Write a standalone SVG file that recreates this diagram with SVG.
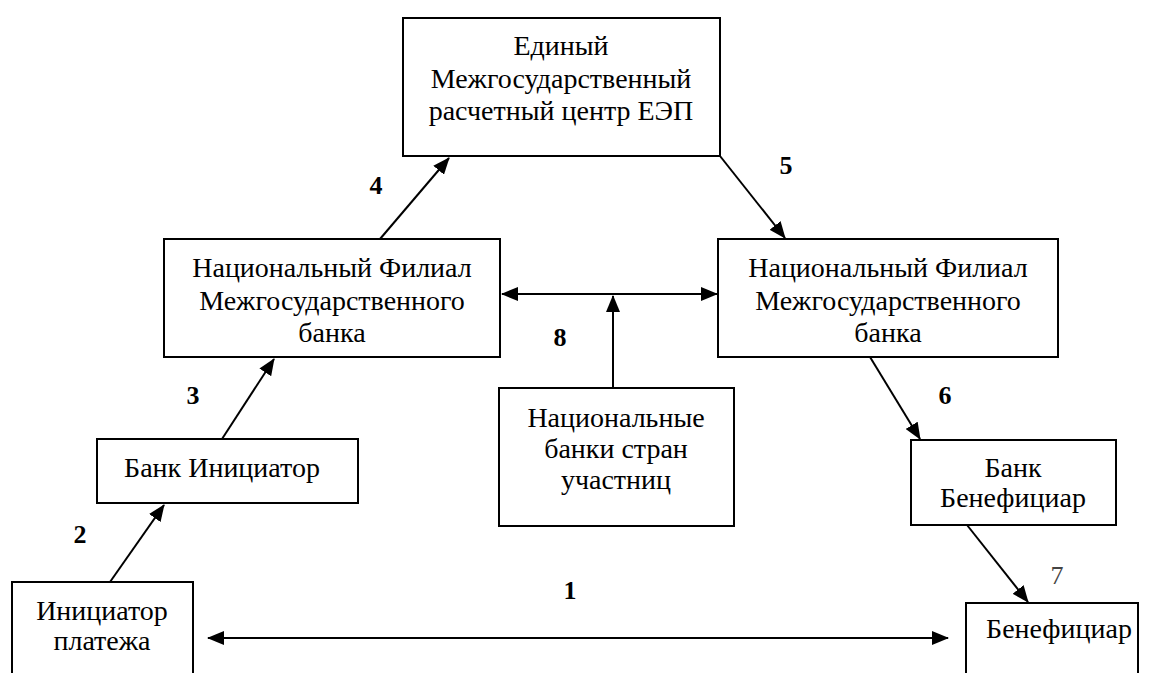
<svg xmlns="http://www.w3.org/2000/svg" width="1150" height="673" viewBox="0 0 1150 673">
<style>
.box{fill:#fff;stroke:#000;stroke-width:2}
.t{font-family:"Liberation Serif",serif;font-size:28px;fill:#000;text-anchor:middle}
.n{font-family:"Liberation Serif",serif;font-size:26px;font-weight:bold;fill:#000;text-anchor:middle}
.c{stroke:#000;stroke-width:2;fill:none}
</style>
<defs>
<marker id="ah" markerUnits="userSpaceOnUse" markerWidth="18" markerHeight="14" refX="16" refY="7" orient="auto-start-reverse" viewBox="0 0 18 14">
<path d="M0,0 L17,7 L0,14 z" fill="#000"/>
</marker>
</defs>
<rect width="1150" height="673" fill="#fff"/>
<g id="connectors">
<line class="c" x1="380" y1="239" x2="449" y2="158" marker-end="url(#ah)"/>
<line class="c" x1="720" y1="156" x2="785" y2="238" marker-end="url(#ah)"/>
<line class="c" x1="502" y1="294" x2="717" y2="294" marker-start="url(#ah)" marker-end="url(#ah)"/>
<line class="c" x1="613" y1="388" x2="613" y2="296" marker-end="url(#ah)"/>
<line class="c" x1="222" y1="439" x2="274" y2="359" marker-end="url(#ah)"/>
<line class="c" x1="110" y1="582" x2="164" y2="505" marker-end="url(#ah)"/>
<line class="c" x1="870" y1="357" x2="920" y2="439" marker-end="url(#ah)"/>
<line class="c" x1="967" y1="525" x2="1028" y2="602" marker-end="url(#ah)"/>
<line class="c" x1="208" y1="638" x2="948" y2="638" marker-start="url(#ah)" marker-end="url(#ah)"/>
<text class="n" x="376" y="194">4</text>
<text class="n" x="786" y="174">5</text>
<text class="n" x="560" y="346">8</text>
<text class="n" x="193" y="404">3</text>
<text class="n" x="80" y="543">2</text>
<text class="n" x="945" y="404">6</text>
<text class="n" x="1057" y="584" style="font-weight:normal;fill:#444">7</text>
<text class="n" x="570" y="599">1</text>
</g>
<g id="center">
<rect class="box" x="403" y="18" width="317" height="138"/>
<text class="t" x="561" y="55">Единый</text>
<text class="t" x="561" y="88">Межгосударственный</text>
<text class="t" x="561" y="120">расчетный центр ЕЭП</text>
</g>
<g id="branch-left">
<rect class="box" x="164" y="239" width="336" height="118"/>
<text class="t" x="332" y="277">Национальный Филиал</text>
<text class="t" x="332" y="310">Межгосударственного</text>
<text class="t" x="332" y="342">банка</text>
</g>
<g id="branch-right">
<rect class="box" x="718" y="239" width="340" height="118"/>
<text class="t" x="888" y="277">Национальный Филиал</text>
<text class="t" x="888" y="310">Межгосударственного</text>
<text class="t" x="888" y="342">банка</text>
</g>
<g id="national-banks">
<rect class="box" x="499" y="388" width="235" height="138"/>
<text class="t" x="616" y="427">Национальные</text>
<text class="t" x="616" y="458">банки стран</text>
<text class="t" x="616" y="489">участниц</text>
</g>
<g id="bank-initiator">
<rect class="box" x="97" y="439" width="261" height="64"/>
<text class="t" x="222" y="477">Банк Инициатор</text>
</g>
<g id="initiator">
<rect class="box" x="12" y="582" width="181" height="100"/>
<text class="t" x="102" y="620">Инициатор</text>
<text class="t" x="102" y="650">платежа</text>
</g>
<g id="bank-beneficiary">
<rect class="box" x="911" y="440" width="205" height="85"/>
<text class="t" x="1013" y="477">Банк</text>
<text class="t" x="1013" y="507">Бенефициар</text>
</g>
<g id="beneficiary">
<rect class="box" x="966" y="603" width="172" height="80"/>
<text class="t" x="1059" y="638">Бенефициар</text>
</g>
</svg>
